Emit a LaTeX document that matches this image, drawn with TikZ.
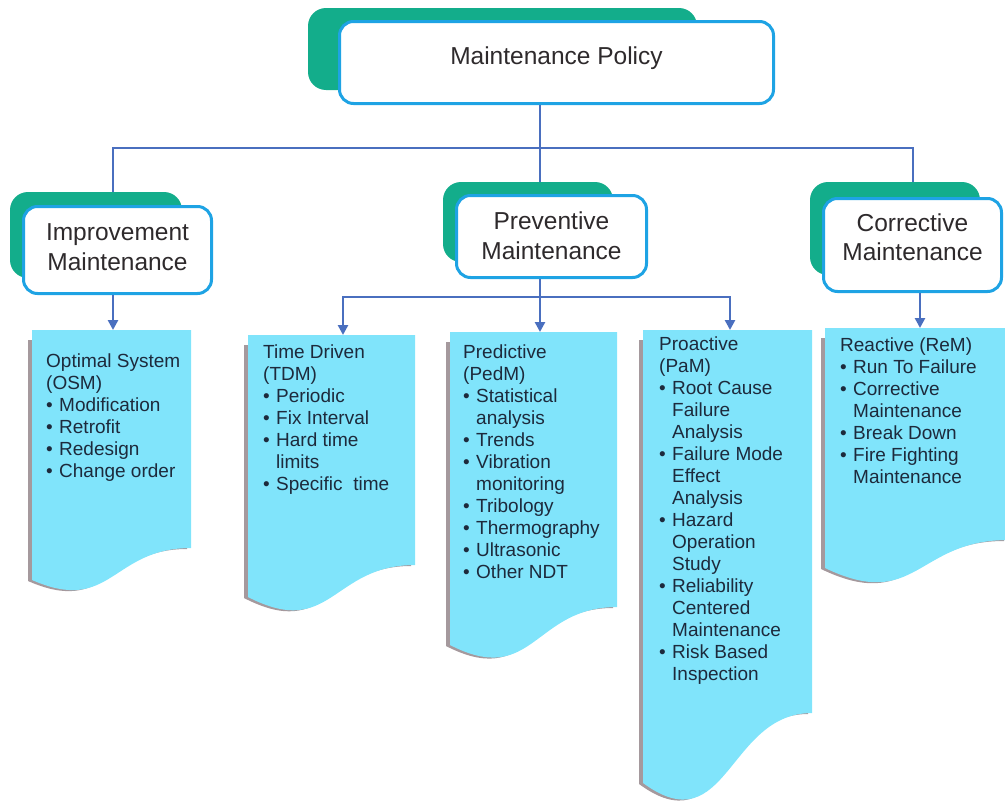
\documentclass[tikz,border=0pt]{standalone}
\usepackage{fontspec}
\setmainfont{Liberation Sans}
\usetikzlibrary{arrows.meta}

\definecolor{TabGreen}{HTML}{13AD8B}
\definecolor{BoxBlue}{HTML}{1EA3E4}
\definecolor{LinkBlue}{HTML}{4A6FBF}
\definecolor{DocCyan}{HTML}{80E4FB}
\definecolor{DocShadow}{HTML}{A5999D}
\definecolor{HeadText}{HTML}{2E2A2C}
\definecolor{DocText}{HTML}{1D2A3C}

\newcommand{\headfont}{\fontsize{24.5}{29.5}\selectfont}
\newcommand{\docfont}{\fontsize{19}{22}\selectfont}
\newcommand{\bul}{\makebox[13pt][l]{\textbullet}}
\newcommand{\ind}{\hspace*{13pt}}

% sheet with wavy bottom: left, right, top, right bottom, left bottom, wave control
\newcommand{\docsheet}[6]{%
  \fill[DocShadow] (#1-4,#3+10) -- (#2-4,#3+10) -- (#2-4,#4+1)
    .. controls ({(#1+#2)/2-4},#4+1) and ({(#1+#2)/2-4},#6+1) .. (#1-4,#5+1) -- cycle;
  \fill[DocCyan] (#1,#3) -- (#2,#3) -- (#2,#4)
    .. controls ({(#1+#2)/2},#4) and ({(#1+#2)/2},#6) .. (#1,#5) -- cycle;
}

\tikzstyle{tab-back}=[fill=TabGreen, rounded corners=18pt, inner sep=0pt]
\tikzstyle{headbox}=[draw=BoxBlue, line width=3pt, fill=white, rounded corners=14pt, align=center, font=\headfont, text=HeadText]
\tikzstyle{link}=[draw=LinkBlue, line width=2.5pt]
\tikzstyle{feed}=[link, -{Triangle[length=10pt,width=10pt]}]
\tikzstyle{doc-text}=[anchor=north west, align=left, inner sep=0pt, font=\docfont, text=DocText]

\begin{document}
\begin{tikzpicture}[x=1pt, y=-1pt]
  \useasboundingbox (0,0) rectangle (1005,803);

  \node (tab-pol) at (502.5, 49) [tab-back, minimum width=389pt, minimum height=82pt] {};
  \node (tab-imp) at (96, 235) [tab-back, minimum width=172pt, minimum height=86pt] {};
  \node (tab-prev) at (528, 222) [tab-back, minimum width=170pt, minimum height=80pt] {};
  \node (tab-cor) at (895, 228.5) [tab-back, minimum width=170pt, minimum height=93pt] {};

  \node (policy) at (556.5, 62.5) [headbox, minimum width=434pt, minimum height=82pt, text depth=14pt] {Maintenance Policy};
  \node (imp) at (117.5, 250) [headbox, minimum width=188pt, minimum height=87pt, text depth=6pt] {Improvement\\Maintenance};
  \node (prev) at (551.5, 236.5) [headbox, minimum width=190pt, minimum height=82pt, text depth=2pt] {Preventive\\Maintenance};
  \node (cor) at (912.5, 245) [headbox, minimum width=178pt, minimum height=93pt, text depth=16pt] {Corrective\\Maintenance};

  \coordinate (trunk) at (540, 148);
  \draw[link] (policy.south -| trunk) -- (trunk) -- (trunk |- tab-prev.north);
  \draw[link] (trunk) -| (113,0 |- tab-imp.north);
  \draw[link] (trunk) -| (913,0 |- tab-cor.north);

  \docsheet{32}{191}{330}{548}{580}{615}
  \docsheet{248}{415}{335}{565}{597}{640}
  \docsheet{450}{617}{332}{607}{645}{688}
  \docsheet{643}{812}{330}{713}{783}{845}
  \docsheet{825}{1008}{328}{540}{568}{612}

  \coordinate (osm-top) at (113, 330);
  \coordinate (tdm-top) at (343, 335);
  \coordinate (pedm-top) at (540, 332);
  \coordinate (pam-top) at (730, 330);
  \coordinate (rem-top) at (920, 328);
  \coordinate (prev-bus) at (540, 297);

  \draw[feed] (imp.south -| osm-top) -- (osm-top);
  \draw[link] (prev.south -| prev-bus) -- (prev-bus);
  \draw[feed] (prev-bus) -| (tdm-top);
  \draw[feed] (prev-bus) -- (pedm-top);
  \draw[feed] (prev-bus) -| (pam-top);
  \draw[feed] (cor.south -| rem-top) -- (rem-top);

  \node (osm) at (46, 354) [doc-text]
    {Optimal System\\(OSM)\\\bul Modification\\\bul Retrofit\\\bul Redesign\\\bul Change order};
  \node (tdm) at (263, 345) [doc-text]
    {Time Driven\\(TDM)\\\bul Periodic\\\bul Fix Interval\\\bul Hard time\\\ind limits\\\bul Specific\ \ time};
  \node (pedm) at (463, 345) [doc-text]
    {Predictive\\(PedM)\\\bul Statistical\\\ind analysis\\\bul Trends\\\bul Vibration\\\ind monitoring\\\bul Tribology\\\bul Thermography\\\bul Ultrasonic\\\bul Other NDT};
  \node (pam) at (659, 337) [doc-text]
    {Proactive\\(PaM)\\\bul Root Cause\\\ind Failure\\\ind Analysis\\\bul Failure Mode\\\ind Effect\\\ind Analysis\\\bul Hazard\\\ind Operation\\\ind Study\\\bul Reliability\\\ind Centered\\\ind Maintenance\\\bul Risk Based\\\ind Inspection};
  \node (rem) at (840, 338) [doc-text]
    {Reactive (ReM)\\\bul Run To Failure\\\bul Corrective\\\ind Maintenance\\\bul Break Down\\\bul Fire Fighting\\\ind Maintenance};
\end{tikzpicture}
\end{document}
